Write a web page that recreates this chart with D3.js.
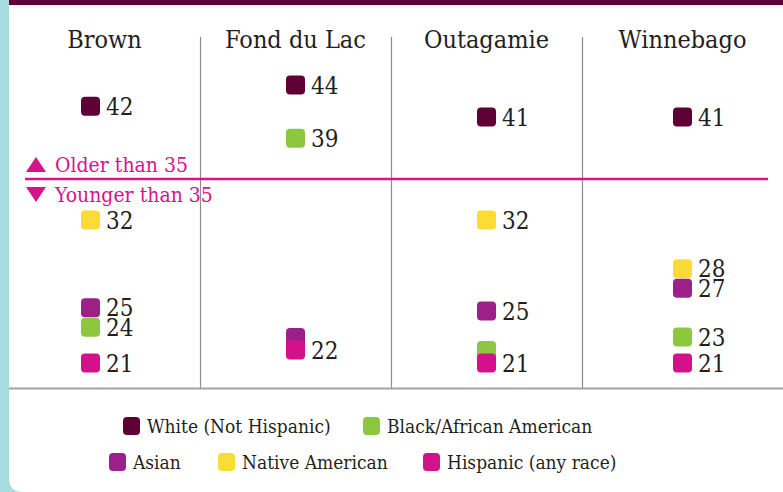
<!DOCTYPE html>
<html>
<head>
<meta charset="utf-8">
<script src="https://cdn.jsdelivr.net/npm/d3@7"></script>
<style>
	html, body { margin: 0; padding: 0; background: #a6dcdf; }
	svg { display: block; }
	text { font-family: "DejaVu Serif Condensed", "DejaVu Serif", serif; fill: #231f20; }
</style>
</head>
<body>
<svg id="chart" width="783" height="492"></svg>
<script>
	// datos: mediana de edad por condado y grupo
	var counties = ["Brown", "Fond du Lac", "Outagamie", "Winnebago"];
	var white = [42, 44, 41, 41];
	var black = [24, 39, 21, 23];
	var asian = [25, 22, 25, 27];
	var native = [32, null, 32, 28];
	var hispanic = [21, 22, 21, 21];

	var seriesNames = ["White (Not Hispanic)", "Black/African American", "Asian", "Native American", "Hispanic (any race)"];
	var seriesValues = [white, black, asian, native, hispanic];
	var seriesColors = ["#5e0036", "#8dc63f", "#9c2088", "#fbdb36", "#d5108b"];

	var threshold = 35;
	var magenta = "#d5148c";

	var width = 783,
		height = 492,
		panelLeft = 9,
		markerSize = 19,
		minGap = 19.5,
		stackStep = 12.5;

	var svg = d3.select("#chart");

	// panel blanco con la barra superior
	svg.append("path")
		.attr("fill", "#fff")
		.attr("d", "M" + panelLeft + ",0H" + width + "V" + height + "H" + (panelLeft + 14) +
			"Q" + panelLeft + "," + height + " " + panelLeft + "," + (height - 14) + "Z");

	svg.append("rect")
		.attr("x", panelLeft)
		.attr("y", 0)
		.attr("width", width - panelLeft)
		.attr("height", 5)
		.attr("fill", "#5e0036");

	var x = d3.scaleBand()
		.domain(counties)
		.range([panelLeft, panelLeft + 4 * 191]);

	var colCenter = function(d, i) {
		var right = i < counties.length - 1 ? x(counties[i + 1]) : width;
		return (x(d) + right) / 2;
	};

	var y = d3.scaleLinear()
		.domain([44, threshold, 21])
		.range([85, 181, 363]);

	// columnas
	svg.selectAll("line.divider")
		.data(counties.slice(1))
		.join("line")
		.attr("class", "divider")
		.attr("x1", function(d) { return x(d) + 0.5; })
		.attr("x2", function(d) { return x(d) + 0.5; })
		.attr("y1", 37)
		.attr("y2", 388)
		.attr("stroke", "#8c8c8c")
		.attr("stroke-width", 1.2);

	svg.append("line")
		.attr("x1", panelLeft)
		.attr("x2", width)
		.attr("y1", 388.5)
		.attr("y2", 388.5)
		.attr("stroke", "#a3a3a3")
		.attr("stroke-width", 2.2);

	svg.selectAll("text.county")
		.data(counties)
		.join("text")
		.attr("class", "county")
		.attr("x", colCenter)
		.attr("y", 48)
		.attr("text-anchor", "middle")
		.attr("font-size", 25)
		.text(function(d) { return d; });

	// linea de los 35
	svg.append("line")
		.attr("x1", 25)
		.attr("x2", 768)
		.attr("y1", y(threshold) - 2)
		.attr("y2", y(threshold) - 2)
		.attr("stroke", magenta)
		.attr("stroke-width", 2.5);

	var thresholdLabels = [
		{ text: "Older than " + threshold, up: true, dy: -7 },
		{ text: "Younger than " + threshold, up: false, dy: 23 }
	];

	var tl = svg.selectAll("g.threshold")
		.data(thresholdLabels)
		.join("g")
		.attr("class", "threshold")
		.attr("transform", function(d) { return "translate(0," + (y(threshold) - 2 + d.dy) + ")"; });

	tl.append("path")
		.attr("fill", magenta)
		.attr("d", function(d) {
			return d.up ? "M26,0L46,0L36,-15Z" : "M26,-15L46,-15L36,0Z";
		});

	tl.append("text")
		.attr("x", 55)
		.attr("font-size", 21)
		.style("fill", magenta)
		.text(function(d) { return d.text; });

	// posiciones de marcadores por columna, evitando solapes
	var columns = counties.map(function(county, ci) {
		var items = [];
		seriesValues.forEach(function(vals, si) {
			if (vals[ci] != null) {
				items.push({ series: si, value: vals[ci] });
			}
		});

		var groups = d3.groups(items, function(d) { return d.value; })
			.map(function(g) { return { value: g[0], items: g[1], y: y(g[0]) }; })
			.sort(function(a, b) { return a.y - b.y; });

		for (var it = 0; it < 10; it++) {
			for (var k = 1; k < groups.length; k++) {
				var gap = groups[k].y - groups[k - 1].y;
				if (gap < minGap) {
					groups[k - 1].y -= (minGap - gap) / 2;
					groups[k].y += (minGap - gap) / 2;
				}
			}
		}

		groups.forEach(function(g) {
			var n = g.items.length;
			g.items.forEach(function(d, j) {
				d.y = g.y - (n - 1 - j) * stackStep;
			});
		});

		return { county: county, index: ci, groups: groups };
	});

	var markerNudge = [-14, 0, 0, 0];

	var col = svg.selectAll("g.col")
		.data(columns)
		.join("g")
		.attr("class", "col")
		.attr("transform", function(d) {
			return "translate(" + (colCenter(d.county, d.index) + markerNudge[d.index]) + ",0)";
		});

	col.selectAll("rect")
		.data(function(d) {
			return d3.merge(d.groups.map(function(g) { return g.items; }));
		})
		.join("rect")
		.attr("x", -markerSize / 2)
		.attr("y", function(d) { return d.y - markerSize / 2; })
		.attr("width", markerSize)
		.attr("height", markerSize)
		.attr("rx", 4)
		.attr("fill", function(d) { return seriesColors[d.series]; });

	col.selectAll("text")
		.data(function(d) { return d.groups; })
		.join("text")
		.attr("x", markerSize / 2 + 6)
		.attr("y", function(d) { return d.y + 8.5; })
		.attr("font-size", 24)
		.text(function(d) { return d.value; });

	// leyenda
	var legendRows = [[0, 1], [2, 3, 4]];
	var legendX = [[123, 363], [109, 218, 423]];
	var legendY = [426, 462];

	legendRows.forEach(function(row, r) {
		var item = svg.selectAll("g.legend-" + r)
			.data(row)
			.join("g")
			.attr("class", "legend-" + r)
			.attr("transform", function(d, i) { return "translate(" + legendX[r][i] + "," + legendY[r] + ")"; });

		item.append("rect")
			.attr("x", 0)
			.attr("y", -9)
			.attr("width", 17)
			.attr("height", 18)
			.attr("rx", 4)
			.attr("fill", function(d) { return seriesColors[d]; });

		item.append("text")
			.attr("x", 24)
			.attr("y", 7)
			.attr("font-size", 19)
			.text(function(d) { return seriesNames[d]; });
	});
</script>
</body>
</html>
